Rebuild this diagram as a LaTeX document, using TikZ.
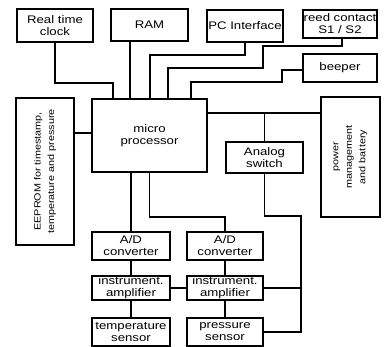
\documentclass[tikz,border=0pt]{standalone}
\usepackage{fontspec}
\setmainfont{Liberation Sans}[FakeStretch=1.2]
\tikzset{
  block/.style={draw, black, line width=1.8pt, inner sep=0pt, align=center,
    font=\fontsize{11}{12}\selectfont},
  sideblock/.style={block, font=\fontsize{9}{13.5}\selectfont},
  wire/.style={line width=1.3pt}
}
\begin{document}
\begin{tikzpicture}[x=1pt, y=-1pt]
\useasboundingbox (0,0) rectangle (386,347);
\draw

(55,25.5) node[block, minimum width=76pt, minimum height=33pt](rtc){Real time\\clock}
(149.5,25) node[block, minimum width=77pt, minimum height=32pt](ram){RAM}
(245,26) node[block, minimum width=76pt, minimum height=32pt](pc){PC Interface}
(340,24) node[block, minimum width=74pt, minimum height=28pt](reed){reed contact\\S1 / S2}
(340,68) node[block, minimum width=74pt, minimum height=28pt](beeper){beeper}
(149.5,135.5) node[block, minimum width=115pt, minimum height=73pt](micro){micro\\processor}
(45,171.5) node[sideblock, minimum width=147pt, minimum height=58pt, rotate=90](eeprom){EEPROM for timestamp,\\temperature and pressure}
(350.5,157) node[sideblock, minimum width=120pt, minimum height=59pt, rotate=90](power){power\\management\\and battery}
(264.5,157.5) node[block, minimum width=77pt, minimum height=31pt](analog){Analog\\switch}
(131,246) node[block, minimum width=78pt, minimum height=28pt](ad1){A/D\\converter}
(225,246) node[block, minimum width=76pt, minimum height=28pt](ad2){A/D\\converter}
(131,288) node[block, minimum width=78pt, minimum height=24pt](amp1){instrument.\\amplifier}
(225,288) node[block, minimum width=76pt, minimum height=24pt](amp2){instrument.\\amplifier}
(131,332) node[block, minimum width=78pt, minimum height=28pt](temp){temperature\\sensor}
(225,332) node[block, minimum width=76pt, minimum height=28pt](pressure){pressure\\sensor};

\coordinate (sw) at (265,113);
\coordinate (rail) at (301,216);

% top side
\draw[wire] (rtc.south) |- (113,83) -- ([xshift=-36.5pt]micro.north);
\draw[wire] ([xshift=-19.5pt]ram.south) -- ([xshift=-19.5pt]ram.south |- micro.north);
\draw[wire] (pc.south) -- ++(0,12) -| ([xshift=0.5pt]micro.north);
\draw[wire] ([xshift=2pt]reed.south) -- ++(0,7) -| (263,68) -| ([xshift=18.5pt]micro.north);
\draw[wire] ([yshift=-2pt]beeper.west) -| (282,82) -| ([xshift=41.5pt]micro.north);

% left and right
\draw[wire] ([yshift=2.5pt]micro.west) -- ([yshift=2.5pt]micro.west -| eeprom.south);
\draw[wire] (micro.east |- sw) -- (power.north |- sw);
\draw[wire] (analog.north) -- (analog.north |- sw);
\draw[wire] (analog.south) |- (rail) |- (pressure.east);
\draw[wire] (amp2.east) -- (amp2.east -| rail);

% bottom chains
\draw[wire] (micro.south -| ad1.north) -- (ad1.north);
\draw[wire] (micro.south) -- ++(0,44) -| (ad2.north);
\draw[wire] (ad1) -- (amp1);
\draw[wire] (amp1) -- (temp);
\draw[wire] (ad2) -- (amp2);
\draw[wire] (amp2) -- (pressure);
\draw[wire] (amp1) -- (amp2);

\end{tikzpicture}
\end{document}
